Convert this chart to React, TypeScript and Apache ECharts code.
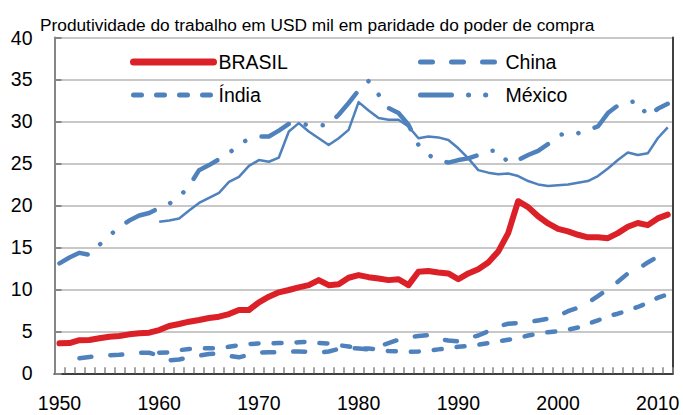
import React, { useEffect, useRef } from "react";
import * as echarts from "echarts";

const years: string[] = [];
for (let y = 1950; y <= 2011; y++) years.push(String(y));

// 1950..2011
const brasil = [
  3.57, 3.6, 3.95, 3.97, 4.17, 4.36, 4.44, 4.64, 4.76, 4.84,
  5.15, 5.63, 5.87, 6.15, 6.35, 6.58, 6.74, 7.06, 7.54, 7.54,
  8.45, 9.12, 9.64, 9.92, 10.24, 10.5, 11.1, 10.5, 10.6, 11.38,
  11.7, 11.45, 11.3, 11.1, 11.2, 10.5, 12.1, 12.18, 12.0, 11.9,
  11.2, 11.9, 12.4, 13.2, 14.5, 16.7, 20.5, 19.8, 18.7, 17.85,
  17.2, 16.9, 16.5, 16.2, 16.2, 16.1, 16.7, 17.45, 17.9, 17.65,
  18.45, 18.9,
];

const china: (number | string)[] = [
  "-", "-", 1.8, 1.95, 2.05, 2.15, 2.2, 2.3, 2.45, 2.45,
  2.1, 1.55, 1.65, 1.9, 2.1, 2.3, 2.35, 2.07, 1.9, 2.2,
  2.45, 2.5, 2.5, 2.57, 2.6, 2.55, 2.45, 2.6, 2.9, 3.0,
  2.95, 2.85, 3.2, 3.6, 4.0, 4.3, 4.45, 4.55, 4.1, 3.9,
  3.8, 4.2, 4.5, 5.0, 5.6, 5.9, 6.0, 6.1, 6.3, 6.5,
  6.8, 7.4, 7.8, 8.4, 9.2, 10.0, 10.9, 11.9, 12.4, 13.2,
  13.9, 14.6,
];

const india: (number | string)[] = [
  "-", "-", "-", "-", "-", "-", "-", "-", "-", "-",
  2.45, 2.5, 2.75, 2.9, 2.97, 2.97, 2.97, 3.17, 3.35, 3.49,
  3.55, 3.57, 3.6, 3.62, 3.7, 3.76, 3.6, 3.55, 3.35, 3.2,
  3.0, 2.95, 2.85, 2.65, 2.6, 2.55, 2.6, 2.7, 2.85, 3.0,
  3.15, 3.25, 3.4, 3.6, 3.8, 4.0, 4.2, 4.5, 4.7, 4.9,
  5.0, 5.2, 5.45, 5.9, 6.3, 6.8, 7.1, 7.5, 7.9, 8.4,
  9.0, 9.4,
];

const mexico = [
  13.1, 13.8, 14.35, 14.1, 15.3, 16.4, 17.4, 18.2, 18.8, 19.1,
  19.7, 20.2, 21.0, 22.3, 24.2, 24.8, 25.5, 26.2, 27.3, 27.9,
  28.2, 28.2, 28.9, 29.7, 29.8, 29.55, 29.5, 29.6, 30.8, 32.2,
  33.7, 34.8, 33.2, 31.6, 31.0, 29.6, 27.2, 26.0, 25.4, 25.1,
  25.4, 25.6, 26.0, 26.5, 26.5, 25.1, 25.4, 26.0, 26.5, 27.3,
  28.3, 28.7, 28.6, 29.0, 29.4, 31.0, 31.9, 32.3, 32.4, 30.6,
  31.5, 32.1,
];

const serie5: (number | string)[] = [
  "-", "-", "-", "-", "-", "-", "-", "-", "-", "-",
  18.05, 18.2, 18.45, 19.4, 20.3, 20.9, 21.5, 22.8, 23.4, 24.7,
  25.4, 25.2, 25.7, 28.8, 29.8, 28.8, 28.0, 27.2, 28.0, 29.0,
  32.3, 31.3, 30.4, 30.2, 30.2, 29.4, 28.0, 28.2, 28.1, 27.8,
  26.8, 25.6, 24.2, 23.9, 23.7, 23.8, 23.5, 22.9, 22.5, 22.3,
  22.4, 22.5, 22.7, 22.9, 23.5, 24.4, 25.4, 26.3, 26.0, 26.2,
  28.0, 29.3,
];

const titleText = "Produtividade do trabalho em USD mil em paridade do poder de compra";
const FONT = "'Liberation Sans', Arial, sans-serif";

const RED = "#dc2028";
const BLUE = "#4f81bd";
const CHINA_DASH = [12, 19];
const INDIA_DASH = [8, 15];
const MEXICO_DASH = [31, 17, 0.1, 17, 0.1, 17];

export default function App() {
  const ref = useRef<HTMLDivElement>(null);
  useEffect(() => {
    if (!ref.current) return;
    const chart = echarts.init(ref.current, undefined, { renderer: "svg" });
    const legendCommon = {
      orient: "vertical",
      top: 52,
      padding: 0,
      itemWidth: 80,
      itemHeight: 20,
      itemGap: 13,
      itemStyle: { opacity: 0 },
      textStyle: { fontFamily: FONT, fontSize: 19.5, color: "#000" },
    };
    chart.setOption({
      animation: false,
      backgroundColor: "#ffffff",
      textStyle: { fontFamily: FONT },
      title: {
        text: titleText,
        left: 40,
        top: 16,
        padding: 0,
        textStyle: { fontFamily: FONT, fontSize: 17.3, fontWeight: "normal", color: "#000" },
      },
      legend: [
        {
          ...legendCommon,
          left: 130,
          data: [
            { name: "BRASIL", itemStyle: { opacity: 0 }, lineStyle: { width: 7, cap: "round" } },
            { name: "Índia", itemStyle: { opacity: 0 }, lineStyle: { width: 5, type: INDIA_DASH, cap: "round" } },
          ],
        },
        {
          ...legendCommon,
          left: 418,
          data: [
            { name: "China", itemStyle: { opacity: 0 }, lineStyle: { width: 5, type: CHINA_DASH, cap: "round" } },
            { name: "México", itemStyle: { opacity: 0 }, lineStyle: { width: 5, type: MEXICO_DASH, cap: "round" } },
          ],
        },
      ],
      grid: { left: 54.5, right: 10.3, top: 37.5, bottom: 41.7, containLabel: false },
      xAxis: [
        {
          type: "category",
          data: years,
          boundaryGap: true,
          axisLine: { show: true, lineStyle: { color: "#868686", width: 2 } },
          axisTick: { show: true, inside: true, length: 6, interval: 0, lineStyle: { color: "#868686", width: 1.5 } },
          axisLabel: {
            interval: (_i: number, v: string) => Number(v) % 10 === 0,
            fontFamily: FONT,
            fontSize: 19.5,
            color: "#000",
            margin: 20,
          },
          splitLine: { show: false },
        },
        {
          type: "category",
          data: years,
          position: "top",
          axisLine: { show: true, lineStyle: { color: "#404040", width: 2 } },
          axisTick: { show: false },
          axisLabel: { show: false },
          splitLine: { show: false },
        },
      ],
      yAxis: [
        {
          type: "value",
          min: 0,
          max: 40,
          interval: 5,
          axisLine: { show: true, lineStyle: { color: "#868686", width: 2 } },
          axisTick: { show: true, inside: true, length: 7, lineStyle: { color: "#868686", width: 2 } },
          axisLabel: { fontFamily: FONT, fontSize: 19.5, color: "#000", margin: 22 },
          splitLine: { show: true, lineStyle: { color: "#c8c8c8", width: 2 } },
        },
        {
          type: "value",
          min: 0,
          max: 40,
          interval: 5,
          position: "right",
          axisLine: { show: true, lineStyle: { color: "#404040", width: 2 } },
          axisTick: { show: false },
          axisLabel: { show: false },
          splitLine: { show: false },
        },
      ],
      series: [
        {
          name: "Série 5",
          type: "line",
          data: serie5,
          symbol: "none",
          lineStyle: { color: BLUE, width: 2.5, join: "round" },
          itemStyle: { color: BLUE },
          z: 2,
        },
        {
          name: "México",
          type: "line",
          data: mexico,
          symbol: "none",
          lineStyle: { color: BLUE, width: 4.5, type: MEXICO_DASH, cap: "round", join: "round" },
          itemStyle: { color: BLUE },
          z: 3,
        },
        {
          name: "China",
          type: "line",
          data: china,
          symbol: "none",
          lineStyle: { color: BLUE, width: 4.5, type: CHINA_DASH, cap: "round", join: "round" },
          itemStyle: { color: BLUE },
          z: 3,
        },
        {
          name: "Índia",
          type: "line",
          data: india,
          symbol: "none",
          lineStyle: { color: BLUE, width: 4.5, type: INDIA_DASH, cap: "round", join: "round" },
          itemStyle: { color: BLUE },
          z: 3,
        },
        {
          name: "BRASIL",
          type: "line",
          data: brasil,
          symbol: "none",
          lineStyle: { color: RED, width: 6, cap: "round", join: "round" },
          itemStyle: { color: RED },
          z: 4,
        },
      ],
    });
    return () => chart.dispose();
  }, []);
  return (
    <div
      ref={ref}
      style={{ position: "fixed", left: 0, top: 0, width: 683, height: 415 }}
    />
  );
}
